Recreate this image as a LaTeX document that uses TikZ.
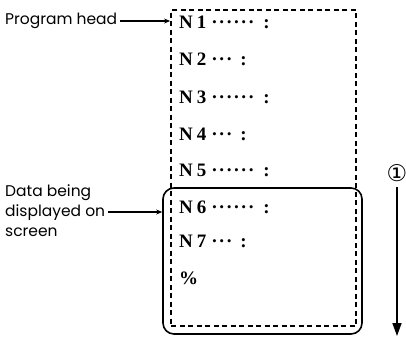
\documentclass[tikz,border=0pt]{standalone}
\usepackage{fontspec}
\setmainfont{Liberation Serif}
\newfontfamily\labfont{Poppins}
\newfontfamily\symfont{DejaVu Sans}
\usetikzlibrary{arrows.meta}
\newcommand{\dotsix}{·\hspace{1pt}·\hspace{1pt}·\hspace{1pt}·\hspace{1pt}·\hspace{1pt}·}
\newcommand{\dotthree}{·\hspace{1pt}·\hspace{1pt}·}
\newcommand{\longrow}[1]{N\hspace{4pt}#1\hspace{5pt}\dotsix\hspace{9pt}:}
\newcommand{\shortrow}[1]{N\hspace{4pt}#1\hspace{5pt}\dotthree\hspace{8pt}:}
\tikzset{
  lab/.style={font=\labfont\fontsize{15.5}{20}\selectfont, inner sep=0pt, align=left},
  row/.style={font=\fontsize{19}{19}\selectfont\bfseries, inner sep=0pt, anchor=west},
  dashbox/.style={draw, line width=1.8pt, dash pattern=on 5pt off 3.5pt, inner sep=0pt},
  solidbox/.style={draw, line width=1.6pt, rounded corners=11pt, inner sep=0pt},
  ptr/.style={line width=1.3pt, -{Stealth[length=6pt,width=5pt]}},
  bigarrow/.style={line width=1.6pt, -{Triangle[length=13pt,width=9pt]}}
}
\begin{document}
\begin{tikzpicture}[x=1pt,y=-1pt]
\useasboundingbox (0,0) rectangle (406,341);
% boxes
\node[dashbox, minimum width=185pt, minimum height=316pt] (prog) at (263.5,168) {};
\node[solidbox, minimum width=199pt, minimum height=146pt] (screen) at (262.5,261) {};
% rows
\node[row] (n1) at (179,22) {\longrow{1}};
\node[row] (n2) at (179,59) {\shortrow{2}};
\node[row] (n3) at (179,97) {\longrow{3}};
\node[row] (n4) at (179,134) {\shortrow{4}};
\node[row] (n5) at (179,170) {\longrow{5}};
\node[row] (n6) at (179,207) {\longrow{6}};
\node[row] (n7) at (179,241) {\shortrow{7}};
\node[row] (pct) at (179,278) {\%};
% labels
\node[lab, anchor=west] (head) at (5,21) {Program head};
\node[lab, anchor=west] (data) at (5,211) {Data being\\displayed on\\screen};
\draw[ptr] ([xshift=3pt]head.east) -- (prog.west |- head.east);
\draw[ptr] ([xshift=3pt,yshift=-1pt]data.east) -- ([yshift=-1pt]screen.west |- data.east);
% direction
\node[font=\symfont\fontsize{23}{23}\selectfont, inner sep=0pt] (one) at (397,173) {①};
\coordinate (end) at (397,336);
\draw[bigarrow] ([yshift=-5pt]one.south) -- (end);
\end{tikzpicture}
\end{document}
